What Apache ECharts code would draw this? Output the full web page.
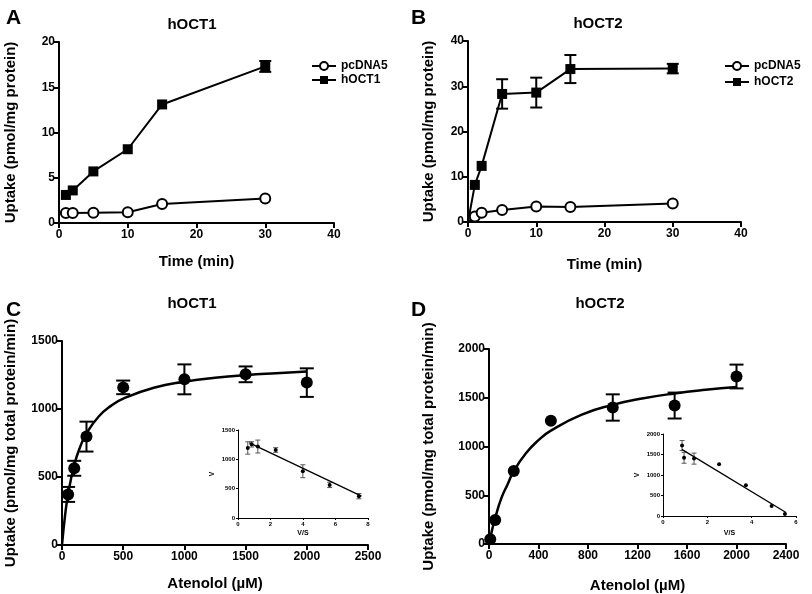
<!DOCTYPE html>
<html><head><meta charset="utf-8">
<script src="https://cdn.jsdelivr.net/npm/echarts@6/dist/echarts.min.js"></script>
<style>html,body{margin:0;padding:0;background:#fff}#c{width:812px;height:594px}</style>
</head><body><div id="c"></div>
<script>
// Panel A
const timeA = [1, 2, 5, 10, 15, 30];
const pcdnaA = [1.1, 1.1, 1.14, 1.18, 2.1, 2.7];
const hoct1A = [3.1, 3.6, 5.7, 8.15, 13.1, 17.3];
const hoct1AErr = [0, 0, 0, 0, 0, 0.6];
// Panel B
const timeB = [0, 1, 2, 5, 10, 15, 30];
const pcdnaB = [0, 1.2, 2.05, 2.65, 3.4, 3.3, 4.1];
const hoct2B = [0, 8.2, 12.4, 28.3, 28.6, 33.8, 33.9];
const hoct2BErr = [0, 0, 0, 3.25, 3.3, 3.1, 1.05];
// Panel C
const concC = [50, 100, 200, 500, 1000, 1500, 2000];
const vC = [372, 564, 797, 1159, 1218, 1255, 1194];
const vCErr = [55, 55, 110, 50, 110, 58, 105];
const fitCx = [0, 25, 50, 100, 150, 200, 300, 400, 500, 750, 1000, 1250, 1500, 1750, 2000];
const fitCy = [0, 217, 375, 588, 725, 821, 945, 1023, 1076, 1156, 1201, 1229, 1249, 1263, 1275];
// Inset C (Eadie-Hofstee)
const insCx = [0.6, 0.84, 1.22, 2.32, 3.99, 5.64, 7.44];
const insCy = [1194, 1255, 1218, 1159, 797, 564, 372];
const insCErr = [105, 45, 110, 40, 110, 45, 45];
const insCLineX = [0.7, 7.6];
const insCLineY = [1282, 372];
// Panel D
const concD = [10, 50, 200, 500, 1000, 1500, 2000];
const vD = [50, 245, 748, 1265, 1400, 1420, 1718];
const vDErr = [0, 0, 0, 0, 135, 133, 122];
const fitDx = [0, 10, 25, 50, 100, 150, 200, 300, 400, 500, 750, 1000, 1250, 1500, 1750, 2000];
const fitDy = [0, 61, 145, 268, 470, 611, 748, 933, 1065, 1163, 1327, 1427, 1495, 1544, 1581, 1610];
// Inset D
const insDx = [0.86, 0.95, 1.40, 2.53, 3.74, 4.90, 5.50];
const insDy = [1718, 1420, 1400, 1265, 748, 245, 50];
const insDErr = [122, 133, 135, 0, 0, 0, 0];
const insDLineX = [0.85, 5.55];
const insDLineY = [1625, 85];

const FONT = '"Liberation Sans", Arial, sans-serif';
const plain = v => String(v);
const pairs = (xs, ys) => xs.map((x, i) => [x, ys[i]]);
const errData = (xs, ys, es) => xs.map((x, i) => [x, ys[i] - es[i], ys[i] + es[i], es[i]]).filter(d => d[3] > 0);

function errSeries(xi, yi, data, cap, color, lw, z) {
  return {
    type: 'custom', xAxisIndex: xi, yAxisIndex: yi, z: z || 1, silent: true,
    data: data,
    encode: { x: 0, y: [1, 2] },
    renderItem: function (params, api) {
      const x = api.value(0), lo = api.value(1), hi = api.value(2);
      const p1 = api.coord([x, lo]), p2 = api.coord([x, hi]);
      const st = { stroke: color, lineWidth: lw };
      return { type: 'group', children: [
        { type: 'line', shape: { x1: p1[0], y1: p1[1], x2: p2[0], y2: p2[1] }, style: st },
        { type: 'line', shape: { x1: p1[0] - cap, y1: p1[1], x2: p1[0] + cap, y2: p1[1] }, style: st },
        { type: 'line', shape: { x1: p2[0] - cap, y1: p2[1], x2: p2[0] + cap, y2: p2[1] }, style: st }
      ]};
    }
  };
}

function mainX(gi, min, max, interval, name, gap) {
  return {
    type: 'value', gridIndex: gi, min: min, max: max, interval: interval,
    name: name, nameLocation: 'middle', nameGap: gap,
    nameTextStyle: { fontFamily: FONT, fontWeight: 'bold', fontSize: 15, color: '#000' },
    axisLine: { show: true, onZero: false, lineStyle: { color: '#000', width: 2 } },
    axisTick: { show: true, length: 5, lineStyle: { color: '#000', width: 2 } },
    axisLabel: { fontFamily: FONT, fontWeight: 'bold', fontSize: 12, color: '#000', margin: 6, formatter: plain },
    splitLine: { show: false }
  };
}
function mainY(gi, min, max, interval, name, gap) {
  return {
    type: 'value', gridIndex: gi, min: min, max: max, interval: interval,
    name: name, nameLocation: 'middle', nameGap: gap,
    nameTextStyle: { fontFamily: FONT, fontWeight: 'bold', fontSize: 15, color: '#000' },
    axisLine: { show: true, onZero: false, lineStyle: { color: '#000', width: 2 } },
    axisTick: { show: true, length: 5, lineStyle: { color: '#000', width: 2 } },
    axisLabel: { fontFamily: FONT, fontWeight: 'bold', fontSize: 12, color: '#000', margin: 4, formatter: plain },
    splitLine: { show: false }
  };
}
function insetAxis(gi, min, max, interval, name, gap) {
  return {
    type: 'value', gridIndex: gi, min: min, max: max, interval: interval,
    name: name, nameLocation: 'middle', nameGap: gap,
    nameTextStyle: { fontFamily: FONT, fontWeight: 'bold', fontSize: 7, color: '#000' },
    axisLine: { show: true, onZero: false, lineStyle: { color: '#000', width: 1 } },
    axisTick: { show: true, length: 2, lineStyle: { color: '#000', width: 1 } },
    axisLabel: { fontFamily: FONT, fontWeight: 'bold', fontSize: 6, color: '#000', margin: 3, formatter: plain },
    splitLine: { show: false }
  };
}

const titleStyle = { fontFamily: FONT, fontWeight: 'bold', fontSize: 15, color: '#000' };
const letterStyle = { fontFamily: FONT, fontWeight: 'bold', fontSize: 21, color: '#000' };

const option = {
  animation: false,
  backgroundColor: '#fff',
  title: [
    { text: 'A', left: 1, top: 3, textStyle: letterStyle },
    { text: 'B', left: 406, top: 3, textStyle: letterStyle },
    { text: 'C', left: 1, top: 295, textStyle: letterStyle },
    { text: 'D', left: 406, top: 295, textStyle: letterStyle },
    { text: 'hOCT1', left: 187, top: 12, textAlign: 'center', textStyle: titleStyle },
    { text: 'hOCT2', left: 593, top: 11, textAlign: 'center', textStyle: titleStyle },
    { text: 'hOCT1', left: 187, top: 291, textAlign: 'center', textStyle: titleStyle },
    { text: 'hOCT2', left: 595, top: 291, textAlign: 'center', textStyle: titleStyle }
  ],
  legend: [
    { data: ['pcDNA5', 'hOCT1'], left: 306, top: 55, orient: 'vertical', itemGap: 2, itemWidth: 24, itemHeight: 10,
      selectedMode: false, textStyle: { fontFamily: FONT, fontWeight: 'bold', fontSize: 12, color: '#000' } },
    { data: ['pcDNA5', 'hOCT2'], left: 719, top: 55, orient: 'vertical', itemGap: 4, itemWidth: 24, itemHeight: 10,
      selectedMode: false, textStyle: { fontFamily: FONT, fontWeight: 'bold', fontSize: 12, color: '#000' } }
  ],
  grid: [
    { left: 59, top: 42, width: 275, height: 181 },
    { left: 468, top: 41, width: 273, height: 181 },
    { left: 62, top: 341, width: 306, height: 204 },
    { left: 489, top: 349, width: 297, height: 196 },
    { left: 238, top: 430, width: 130, height: 88 },
    { left: 663, top: 434, width: 133, height: 82 }
  ],
  xAxis: [
    mainX(0, 0, 40, 10, 'Time (min)', 31),
    mainX(1, 0, 40, 10, 'Time (min)', 35),
    mainX(2, 0, 2500, 500, 'Atenolol (µM)', 31),
    mainX(3, 0, 2400, 400, 'Atenolol (µM)', 34),
    insetAxis(4, 0, 8, 2, 'V/S', 12),
    insetAxis(5, 0, 6, 2, 'V/S', 14)
  ],
  yAxis: [
    mainY(0, 0, 20, 5, 'Uptake (pmol/mg protein)', 41),
    mainY(1, 0, 40, 10, 'Uptake (pmol/mg protein)', 32),
    mainY(2, 0, 1500, 500, 'Uptake (pmol/mg total protein/min)', 44),
    mainY(3, 0, 2000, 500, 'Uptake (pmol/mg total protein/min)', 53),
    insetAxis(4, 0, 1500, 500, 'V', 22),
    insetAxis(5, 0, 2000, 500, 'V', 22)
  ],
  series: [
    // A
    { name: 'pcDNA5', type: 'line', xAxisIndex: 0, yAxisIndex: 0, data: pairs(timeA, pcdnaA),
      symbol: 'circle', symbolSize: 10, z: 3,
      lineStyle: { color: '#000', width: 2 }, itemStyle: { color: '#fff', borderColor: '#000', borderWidth: 2 } },
    errSeries(0, 0, errData(timeA, hoct1A, hoct1AErr), 6, '#000', 2, 2),
    { name: 'hOCT1', type: 'line', xAxisIndex: 0, yAxisIndex: 0, data: pairs(timeA, hoct1A),
      symbol: 'rect', symbolSize: 10, z: 3,
      lineStyle: { color: '#000', width: 2 }, itemStyle: { color: '#000' } },
    // B
    { name: 'pcDNA5', type: 'line', xAxisIndex: 1, yAxisIndex: 1,
      data: timeB.map((t, i) => t === 0 ? { value: [t, pcdnaB[i]], symbol: 'none' } : [t, pcdnaB[i]]),
      symbol: 'circle', symbolSize: 10, z: 3,
      lineStyle: { color: '#000', width: 2 }, itemStyle: { color: '#fff', borderColor: '#000', borderWidth: 2 } },
    errSeries(1, 1, errData(timeB, hoct2B, hoct2BErr), 6, '#000', 2, 2),
    { name: 'hOCT2', type: 'line', xAxisIndex: 1, yAxisIndex: 1,
      data: timeB.map((t, i) => t === 0 ? { value: [t, hoct2B[i]], symbol: 'none' } : [t, hoct2B[i]]),
      symbol: 'rect', symbolSize: 10, z: 3,
      lineStyle: { color: '#000', width: 2 }, itemStyle: { color: '#000' } },
    // C
    errSeries(2, 2, errData(concC, vC, vCErr), 7, '#000', 2, 2),
    { type: 'line', xAxisIndex: 2, yAxisIndex: 2, data: pairs(fitCx, fitCy), smooth: true, showSymbol: false,
      symbol: 'none', lineStyle: { color: '#000', width: 2.5 }, z: 3 },
    { type: 'scatter', xAxisIndex: 2, yAxisIndex: 2, data: pairs(concC, vC), symbol: 'circle', symbolSize: 12,
      itemStyle: { color: '#000', opacity: 1 }, z: 4 },
    // D
    errSeries(3, 3, errData(concD, vD, vDErr), 7, '#000', 2, 2),
    { type: 'line', xAxisIndex: 3, yAxisIndex: 3, data: pairs(fitDx, fitDy), smooth: true, showSymbol: false,
      symbol: 'none', lineStyle: { color: '#000', width: 2.5 }, z: 3 },
    { type: 'scatter', xAxisIndex: 3, yAxisIndex: 3, data: pairs(concD, vD), symbol: 'circle', symbolSize: 12,
      itemStyle: { color: '#000', opacity: 1 }, z: 4 },
    // Inset C
    errSeries(4, 4, errData(insCx, insCy, insCErr), 2.5, '#555', 1, 2),
    { type: 'line', xAxisIndex: 4, yAxisIndex: 4, data: pairs(insCLineX, insCLineY), symbol: 'none',
      lineStyle: { color: '#000', width: 1.3 }, z: 3 },
    { type: 'scatter', xAxisIndex: 4, yAxisIndex: 4, data: pairs(insCx, insCy), symbol: 'circle', symbolSize: 4,
      itemStyle: { color: '#000', opacity: 1 }, z: 4 },
    // Inset D
    errSeries(5, 5, errData(insDx, insDy, insDErr), 2.5, '#555', 1, 2),
    { type: 'line', xAxisIndex: 5, yAxisIndex: 5, data: pairs(insDLineX, insDLineY), symbol: 'none',
      lineStyle: { color: '#000', width: 1.3 }, z: 3 },
    { type: 'scatter', xAxisIndex: 5, yAxisIndex: 5, data: pairs(insDx, insDy), symbol: 'circle', symbolSize: 4,
      itemStyle: { color: '#000', opacity: 1 }, z: 4 }
  ]
};
const chart = echarts.init(document.getElementById('c'), null, { renderer: 'canvas' });
chart.setOption(option);
</script></body></html>
